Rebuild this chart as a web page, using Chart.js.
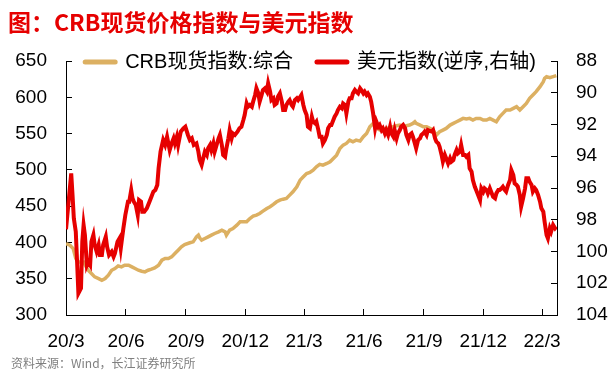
<!DOCTYPE html>
<html>
<head>
<meta charset="utf-8">
<script src="https://cdn.jsdelivr.net/npm/chart.js@4"></script>
<style>
  body { margin: 0; background: #fff; }
  #wrap { position: relative; width: 615px; height: 373px; }
  #chart { position: absolute; left: 0; top: 0; }
  #title {
    position: absolute; left: 8px; top: 10px; white-space: nowrap;
    font: bold 23px/23px 'Noto Sans CJK SC', sans-serif; color: #e60000;
  }
  #source {
    position: absolute; left: 11px; top: 357px; white-space: nowrap;
    font: 12px/12px 'Noto Sans CJK SC', sans-serif; color: #7f7f7f;
  }
</style>
</head>
<body>
<div id="wrap">
  <canvas id="chart" width="615" height="373"></canvas>
  <div id="title">图：CRB现货价格指数与美元指数</div>
  <div id="source">资料来源：Wind，长江证券研究所</div>
</div>
<script>
// x values are days counted from 2020-03-01
const tickDays = [0, 92, 184, 275, 365, 457, 549, 640, 730];
const tickLabels = ['20/3', '20/6', '20/9', '20/12', '21/3', '21/6', '21/9', '21/12', '22/3'];

// CRB spot index, composite (left axis)
const crbDays = [
  0, 6, 11, 15, 19, 23, 27, 31, 34, 39,
  44, 50, 55, 60, 65, 70, 75, 80, 85, 90,
  96, 101, 106, 111, 116, 121, 126, 131, 136, 142,
  147, 152, 157, 162, 167, 172, 177, 182, 190, 195,
  200, 203, 205, 208, 213, 218, 223, 228, 234, 239,
  244, 246, 251, 256, 262, 267, 272, 277, 282, 287,
  292, 297, 302, 308, 313, 318, 323, 328, 333, 338,
  343, 348, 354, 359, 364, 369, 374, 379, 384, 389,
  394, 400, 405, 410, 415, 420, 425, 430, 435, 440,
  445, 451, 456, 461, 466, 471, 476, 481, 486, 491,
  497, 502, 507, 512, 517, 522, 527, 532, 535, 537,
  543, 548, 553, 558, 563, 568, 573, 578, 583, 589,
  594, 599, 604, 609, 614, 619, 624, 629, 635, 640,
  645, 650, 655, 660, 665, 670, 675, 681, 686, 691,
  696, 701, 706, 711, 716, 721, 727, 732, 734, 737,
  742, 747, 752
];
const crbValues = [
  398.5, 396.2, 391.6, 377.8, 373.2, 373.2, 373.2, 366.3, 361.7, 357.1,
  352.5, 350.2, 347.9, 350.2, 354.8, 361.7, 364.0, 367.7, 366.3, 368.6,
  368.6, 366.3, 364.0, 361.7, 360.3, 359.4, 361.7, 363.1, 364.9, 368.6,
  375.5, 377.8, 377.8, 380.1, 384.7, 389.3, 393.9, 397.1, 399.5, 400.8,
  407.7, 410.0, 406.3, 403.1, 405.4, 407.7, 410.0, 412.3, 414.6, 416.9,
  414.6, 410.0, 416.9, 419.2, 423.8, 428.4, 428.4, 428.4, 433.0, 436.2,
  437.6, 439.9, 443.1, 446.8, 449.1, 452.3, 456.0, 458.3, 459.6, 460.6,
  465.2, 469.8, 476.7, 485.8, 490.5, 495.0, 496.4, 499.6, 504.2, 507.5,
  506.5, 508.8, 511.1, 515.7, 520.3, 529.5, 534.1, 536.4, 541.0, 538.7,
  541.0, 539.6, 545.6, 550.2, 559.4, 564.0, 559.4, 554.9, 553.5, 557.1,
  558.1, 559.4, 560.8, 561.7, 559.4, 560.8, 561.7, 564.0, 566.3, 564.0,
  561.7, 559.4, 559.4, 557.1, 554.8, 547.9, 552.5, 554.8, 557.1, 561.7,
  564.0, 566.3, 568.6, 570.9, 570.0, 570.9, 568.6, 570.9, 570.9, 568.6,
  568.6, 570.9, 568.6, 566.3, 573.2, 577.8, 582.4, 582.4, 584.7, 587.0,
  582.4, 587.0, 591.6, 598.5, 603.1, 607.7, 614.6, 621.5, 626.1, 628.4,
  627.0, 628.4, 629.8
];

// US dollar index (right axis, reversed)
const usdDays = [
  0, 4, 8, 10, 12, 15, 17, 19, 23, 25,
  27, 29, 32, 34, 37, 39, 42, 44, 47, 50,
  52, 55, 57, 61, 63, 66, 70, 73, 75, 79,
  82, 84, 88, 91, 95, 97, 100, 102, 104, 107,
  110, 112, 115, 117, 120, 124, 128, 131, 134, 137,
  140, 142, 145, 149, 152, 155, 159, 162, 165, 167,
  170, 172, 176, 180, 183, 187, 190, 193, 196, 200,
  203, 205, 208, 211, 213, 216, 218, 221, 223, 226,
  228, 231, 234, 236, 239, 241, 244, 246, 249, 251,
  254, 256, 259, 263, 266, 269, 272, 274, 277, 279,
  282, 285, 287, 290, 292, 295, 297, 300, 302, 305,
  308, 310, 313, 315, 318, 320, 323, 325, 328, 331,
  333, 336, 338, 341, 343, 346, 348, 351, 354, 356,
  361, 364, 366, 369, 371, 374, 377, 379, 382, 384,
  387, 389, 392, 394, 397, 400, 402, 405, 407, 410,
  412, 415, 417, 420, 423, 425, 428, 430, 433, 435,
  438, 440, 443, 445, 448, 451, 453, 456, 458, 461,
  463, 466, 468, 471, 474, 476, 479, 481, 484, 486,
  489, 491, 494, 497, 499, 502, 504, 507, 509, 512,
  514, 517, 520, 522, 525, 527, 530, 532, 535, 537,
  540, 543, 545, 548, 550, 553, 555, 558, 561, 563,
  566, 568, 571, 573, 576, 578, 581, 583, 586, 589,
  591, 594, 596, 599, 601, 604, 606, 609, 612, 614,
  617, 619, 622, 624, 627, 629, 632, 635, 637, 640,
  642, 645, 647, 650, 652, 655, 658, 660, 663, 665,
  668, 670, 673, 675, 678, 681, 683, 686, 688, 691,
  693, 696, 698, 701, 704, 706, 709, 711, 714, 716,
  719, 721, 724, 727, 729, 732, 734, 737, 739, 742,
  744, 747, 750, 752
];
const usdValues = [
  98.6, 96.86, 95.08, 96.44, 97.91, 98.75, 100.64, 102.64, 102.32, 99.38,
  98.33, 98.96, 100.85, 100.64, 100.85, 99.38, 98.96, 99.59, 100.01, 99.59,
  100.22, 100.22, 99.59, 99.07, 99.70, 100.22, 100.01, 100.33, 100.12, 99.38,
  99.17, 99.80, 98.54, 97.70, 96.86, 96.86, 96.13, 96.65, 96.86, 97.07,
  97.70, 96.76, 96.86, 97.49, 97.49, 97.28, 96.86, 96.55, 96.23, 96.13,
  95.81, 94.76, 93.71, 92.98, 93.29, 92.77, 93.61, 93.19, 92.87, 93.19,
  92.77, 93.29, 92.45, 92.24, 92.14, 92.66, 92.98, 92.87, 93.29, 93.19,
  93.71, 94.24, 94.55, 94.03, 93.71, 93.92, 93.50, 93.29, 93.61, 93.19,
  93.71, 93.29, 92.87, 92.66, 93.29, 93.92, 94.03, 93.50, 92.87, 92.35,
  92.87, 92.56, 92.66, 92.45, 92.24, 92.14, 91.72, 91.40, 90.67, 90.88,
  90.77, 90.88, 90.56, 90.14, 89.72, 90.04, 90.56, 90.14, 89.83, 89.72,
  89.93, 89.41, 89.93, 90.46, 90.35, 90.77, 90.67, 90.25, 90.04, 90.56,
  91.09, 91.09, 90.77, 90.56, 90.46, 90.77, 90.88, 90.46, 90.35, 90.46,
  90.14, 90.77, 91.09, 91.40, 92.14, 92.24, 91.51, 91.82, 91.93, 91.82,
  92.35, 92.77, 92.77, 93.19, 92.98, 92.66, 92.24, 92.03, 92.03, 91.72,
  91.51, 91.30, 91.09, 90.88, 90.98, 90.67, 90.77, 91.30, 90.56, 90.35,
  90.35, 90.04, 89.83, 89.93, 90.04, 89.72, 89.83, 90.04, 89.93, 90.14,
  90.04, 90.25, 90.56, 91.30, 92.24, 91.82, 92.14, 92.03, 92.35, 92.24,
  92.56, 92.35, 92.66, 92.14, 92.56, 92.77, 92.35, 92.87, 92.56, 92.35,
  92.14, 92.03, 92.24, 92.66, 92.98, 92.66, 92.56, 92.77, 93.19, 93.50,
  92.98, 92.87, 92.66, 92.56, 92.45, 92.66, 92.35, 92.41, 92.45, 92.35,
  92.87, 93.08, 93.19, 93.40, 93.92, 94.34, 93.92, 94.13, 94.45, 94.13,
  94.34, 94.24, 93.92, 93.61, 93.82, 93.71, 93.29, 93.92, 93.92, 94.03,
  93.92, 94.76, 94.97, 95.50, 95.92, 96.13, 96.44, 96.76, 96.02, 96.23,
  96.02, 96.13, 96.34, 96.02, 96.23, 96.55, 96.65, 96.34, 96.13, 96.13,
  96.02, 95.92, 96.13, 96.23, 95.81, 95.50, 94.87, 95.18, 95.71, 95.81,
  95.92, 96.44, 97.18, 96.65, 96.02, 95.39, 95.39, 95.60, 95.81, 96.23,
  96.02, 96.13, 96.44, 96.86, 97.28, 97.49, 98.12, 98.96, 99.17, 98.54,
  98.75, 98.33, 98.54, 98.44
];

const toPoints = (days, values) => days.map((d, i) => ({ x: d, y: values[i] }));

const FONT = "'Liberation Sans', 'Noto Sans CJK SC', sans-serif";
const tickGrid = { drawOnChartArea: false, drawTicks: true, tickLength: -6, color: '#000', lineWidth: 1 };
const axisBorder = { display: true, color: '#000', width: 1 };

// the legend is laid out on top, then moved down so it straddles the plot's top edge
const legendNudge = {
  id: 'legendNudge',
  afterLayout(chart) {
    const lg = chart.legend;
    const h = lg.bottom - lg.top;
    lg.top = 28;
    lg.bottom = lg.top + h;
    lg.left += 3;
    lg.right += 3;
  }
};

new Chart(document.getElementById('chart'), {
  type: 'line',
  data: {
    datasets: [{
      label: 'CRB现货指数:综合',
      data: toPoints(crbDays, crbValues),
      yAxisID: 'y',
      borderColor: '#dcb062',
      backgroundColor: '#dcb062',
      borderWidth: 3.5,
      pointRadius: 0,
      order: 1
    }, {
      label: '美元指数(逆序,右轴)',
      data: toPoints(usdDays, usdValues),
      yAxisID: 'y1',
      borderColor: '#e60000',
      backgroundColor: '#e60000',
      borderWidth: 4,
      pointRadius: 0,
      order: 0
    }]
  },
  options: {
    responsive: false,
    animation: false,
    devicePixelRatio: 1,
    events: [],
    layout: { padding: { top: 7, left: 0, right: 0, bottom: 0 } },
    plugins: {
      legend: {
        position: 'top',
        align: 'center',
        labels: {
          color: '#000',
          font: { family: FONT, size: 20 },
          usePointStyle: true,
          pointStyle: 'line',
          pointStyleWidth: 30,
          padding: 24,
          sort: (a, b) => a.datasetIndex - b.datasetIndex,
          generateLabels: chart => Chart.defaults.plugins.legend.labels.generateLabels(chart)
            .map(item => Object.assign(item, { lineWidth: 5, lineCap: 'round' }))
        }
      },
      tooltip: { enabled: false }
    },
    scales: {
      x: {
        type: 'linear',
        min: 0,
        max: 753,
        afterBuildTicks: scale => { scale.ticks = tickDays.map(v => ({ value: v })); },
        afterFit: scale => { scale.height = 58; },
        ticks: {
          autoSkip: false,
          maxRotation: 0,
          padding: 21,
          color: '#000',
          font: { family: FONT, size: 19 },
          callback: (value, index) => tickLabels[index]
        },
        grid: tickGrid,
        border: axisBorder
      },
      y: {
        position: 'left',
        min: 300,
        max: 650,
        afterFit: scale => { scale.width = 66; },
        ticks: { stepSize: 50, padding: 25, color: '#000', font: { family: FONT, size: 19 } },
        grid: tickGrid,
        border: axisBorder
      },
      y1: {
        position: 'right',
        min: 88,
        max: 104,
        reverse: true,
        afterFit: scale => { scale.width = 58; },
        ticks: { stepSize: 2, padding: 25, color: '#000', font: { family: FONT, size: 19 } },
        grid: tickGrid,
        border: axisBorder
      }
    }
  },
  plugins: [legendNudge]
});
</script>
</body>
</html>
